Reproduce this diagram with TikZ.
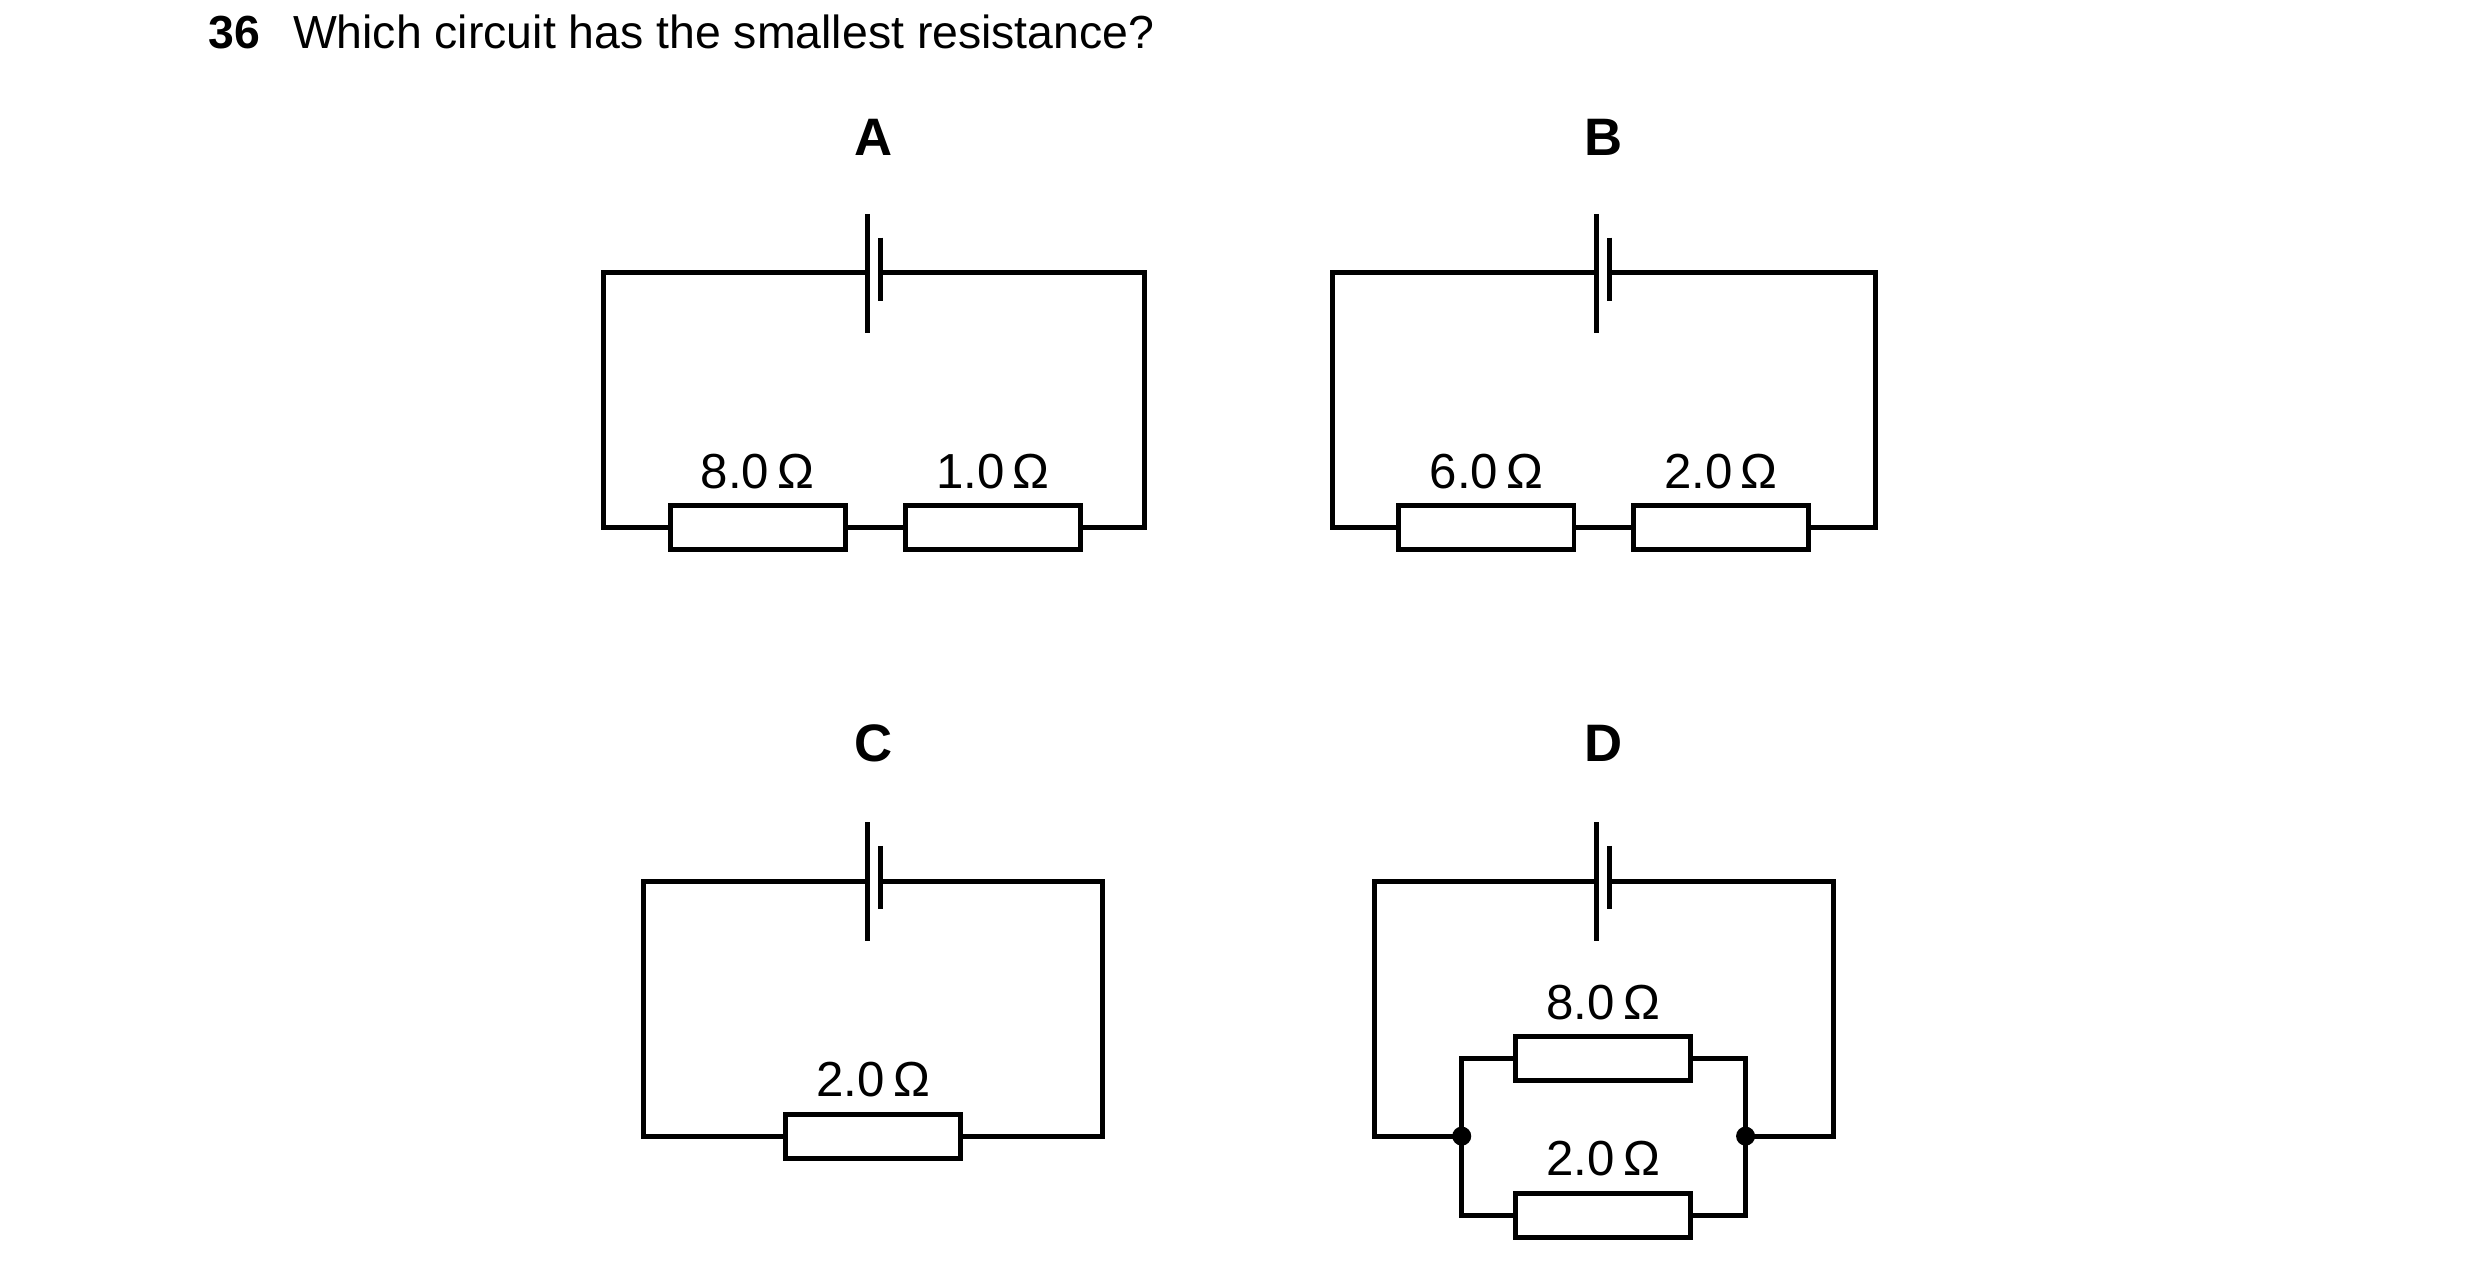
\documentclass[tikz,border=0pt]{standalone}
\usepackage{fontspec}
\setmainfont{Liberation Sans}
\usetikzlibrary{positioning}
\tikzset{
  wire/.style={line width=1.4pt, line join=miter},
  res/.style={draw, line width=1.4pt, rectangle, minimum width=1.75cm, minimum height=0.44cm, inner sep=0pt, fill=white},
  val/.style={font=\fontsize{14}{14}\selectfont, inner sep=0pt},
  lbl/.style={font=\fontsize{15}{15}\selectfont\bfseries, inner sep=0pt},
  jn/.style={circle, fill=black, inner sep=0pt, minimum size=0.19cm}
}
\begin{document}
\begin{tikzpicture}[x=0.00989cm, y=-0.0099cm]
      \useasboundingbox (0,0) rectangle (2507.6,1289.9);
      \node[anchor=west, font=\fontsize{13.2}{13.2}\selectfont, inner sep=0pt] (title) at (210,32) {\textbf{36}\hspace{0.33cm}Which circuit has the smallest resistance?};
      %
      \node[lbl] (labA) at (883,139) {A};
      \node[lbl] (labB) at (1621,139) {B};
      \node[lbl] (labC) at (883,750) {C};
      \node[lbl] (labD) at (1621,750) {D};
      %
      % circuit A
      \coordinate (cellAl) at (877,275);
      \coordinate (cellAr) at (890,275);
      \node[res] (resA0) at (766,533) {};
      \node[res] (resA1) at (1004,533) {};
      \draw[wire] (cellAl) -- (610,275) -- (610,533) -- (resA0.west);
      \draw[wire] (cellAr) -- (1157,275) -- (1157,533) -- (resA1.east);
      \draw[wire] (resA0.east) -- (resA1.west);
      \draw[wire] (877,216) -- (877,336);
      \draw[wire] (890,240) -- (890,304);
      \node[val, above=0.14cm of resA0] {8.0\,Ω};
      \node[val, above=0.14cm of resA1] {1.0\,Ω};
      %
      % circuit B
      \coordinate (cellBl) at (1614,275);
      \coordinate (cellBr) at (1627,275);
      \node[res] (resB0) at (1503,533) {};
      \node[res] (resB1) at (1740,533) {};
      \draw[wire] (cellBl) -- (1347,275) -- (1347,533) -- (resB0.west);
      \draw[wire] (cellBr) -- (1896,275) -- (1896,533) -- (resB1.east);
      \draw[wire] (resB0.east) -- (resB1.west);
      \draw[wire] (1614,216) -- (1614,336);
      \draw[wire] (1627,240) -- (1627,304);
      \node[val, above=0.14cm of resB0] {6.0\,Ω};
      \node[val, above=0.14cm of resB1] {2.0\,Ω};
      %
      % circuit C
      \coordinate (cellCl) at (877,890);
      \coordinate (cellCr) at (890,890);
      \node[res] (resC0) at (883,1147) {};
      \draw[wire] (cellCl) -- (651,890) -- (651,1147) -- (resC0.west);
      \draw[wire] (cellCr) -- (1115,890) -- (1115,1147) -- (resC0.east);
      \draw[wire] (877,830) -- (877,950);
      \draw[wire] (890,854) -- (890,918);
      \node[val, above=0.14cm of resC0] {2.0\,Ω};
      %
      % circuit D
      \coordinate (cellDl) at (1614,890);
      \coordinate (cellDr) at (1627,890);
      \node[jn] (jnD0) at (1478,1147) {};
      \node[jn] (jnD1) at (1765,1147) {};
      \node[res] (resD0) at (1621,1069) {};
      \node[res] (resD1) at (1621,1227) {};
      \draw[wire] (cellDl) -- (1390,890) -- (1390,1147) -- (jnD0.center);
      \draw[wire] (cellDr) -- (1854,890) -- (1854,1147) -- (jnD1.center);
      \draw[wire] (resD0.west) -- (1478,1069) -- (1478,1227) -- (resD1.west);
      \draw[wire] (resD0.east) -- (1765,1069) -- (1765,1227) -- (resD1.east);
      \draw[wire] (1614,830) -- (1614,950);
      \draw[wire] (1627,854) -- (1627,918);
      \node[val, above=0.14cm of resD0] {8.0\,Ω};
      \node[val, above=0.14cm of resD1] {2.0\,Ω};
\end{tikzpicture}
\end{document}
